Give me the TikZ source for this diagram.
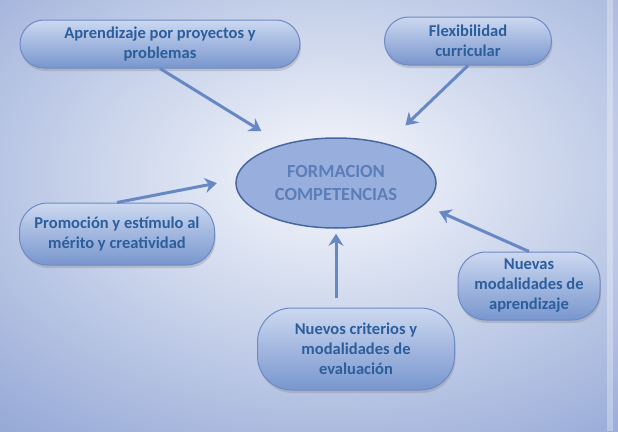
\documentclass[tikz,border=0pt]{standalone}
\usepackage{fontspec}
\setmainfont{Carlito}
\usetikzlibrary{shapes.geometric,shadows,arrows.meta}
\definecolor{bgout}{RGB}{130,153,207}
\definecolor{bgin}{RGB}{246,248,252}
\definecolor{pilltop}{RGB}{204,216,240}
\definecolor{pillbot}{RGB}{120,150,206}
\definecolor{pilledge}{RGB}{110,138,196}
\definecolor{txtblue}{RGB}{44,94,156}
\definecolor{ovalfill}{RGB}{152,174,220}
\definecolor{ovaledge}{RGB}{72,102,162}
\definecolor{ovaltxt}{RGB}{92,126,184}
\definecolor{arrowblue}{RGB}{104,136,196}
\tikzset{
  pill/.style={rectangle,rounded corners=#1,top color=pilltop,bottom color=pillbot,
    draw=pilledge,line width=1pt,inner sep=0pt,align=center,text=txtblue,
    font=\bfseries\fontsize{16.5}{20}\selectfont,
    drop shadow={opacity=0.3,shadow xshift=1pt,shadow yshift=-3pt}},
  link/.style={arrowblue,line width=3pt,-{Stealth[length=12pt,width=15pt,inset=4pt]}}
}
\begin{document}
\begin{tikzpicture}[x=1pt,y=-1pt]
\useasboundingbox (0,0) rectangle (618,431);
\fill[bgout] (0,0) rectangle (618,431);
\begin{scope}
\clip (0,0) rectangle (618,431);
\shade[inner color=bgin,outer color=bgout] (330,175) ellipse (620 and 400);
\end{scope}
\fill[white,opacity=0.3] (607,0) rectangle (613,431);
%
\node[ellipse,minimum width=200pt,minimum height=90pt,inner sep=0pt,fill=ovalfill,
  draw=ovaledge,line width=1.5pt,align=center,text=ovaltxt,
  font=\bfseries\fontsize{18.5}{23}\selectfont] (F) at (336,183) {FORMACION\\COMPETENCIAS};
\node[pill=24pt,minimum width=280pt,minimum height=48pt] (A) at (160,44)
  {Aprendizaje por proyectos y\\problemas};
\node[pill=24pt,minimum width=167pt,minimum height=48pt] (B) at (468,41)
  {Flexibilidad\\curricular};
\node[pill=28pt,minimum width=195pt,minimum height=62pt] (C) at (117,234)
  {Promoción y estímulo al\\mérito y creatividad};
\node[pill=28pt,minimum width=142pt,minimum height=68pt] (D) at (529,286)
  {Nuevas\\modalidades de\\aprendizaje};
\node[pill=34pt,minimum width=197pt,minimum height=82pt] (E) at (356,349)
  {Nuevos criterios y\\modalidades de\\evaluación};
%
\draw[link,shorten >=25pt] (A.south) -- (F.144);
\draw[link,shorten >=26pt] (B.south) -- (F.38);
\draw[link,shorten >=19pt] (C.north) -- (F.178);
\draw[link,shorten >=16pt] (D.north) -- (F.-14);
\draw[link,shorten <=10pt,shorten >=5pt] (E.north -| F.south) -- (F.south);
\end{tikzpicture}
\end{document}
